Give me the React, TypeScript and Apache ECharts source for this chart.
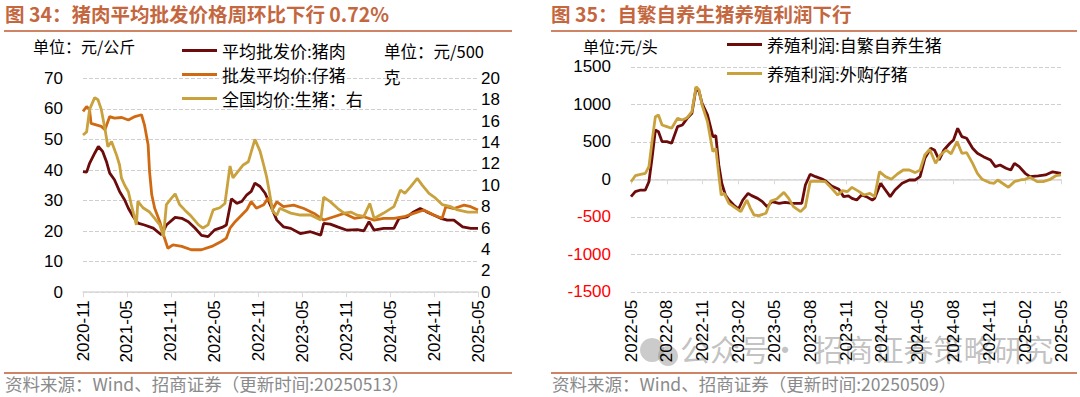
import React, { useEffect, useRef } from "react";
import * as echarts from "echarts";

const FONT = "'Liberation Sans', 'Noto Sans CJK SC', sans-serif";
const CJK = "'Noto Sans CJK SC', 'Liberation Sans', sans-serif";

// Left chart: month offset from 2020-11, value
const porkWholesale: [number, number][] = [
  [0, 39.5], [0.5, 39.3], [0.9, 42.2], [1.6, 45.5], [2.1, 47.7], [2.7, 46], [3.2, 42.8], [3.65, 39],
  [4.3, 36.8], [5, 33], [5.7, 30.2], [6.2, 27.5], [6.85, 24.8], [7.5, 22.6], [8.4, 22], [9.6, 21],
  [10.7, 18.8], [11.4, 22], [12.6, 24.5], [13.5, 24.2], [14.4, 23.1], [15.3, 21], [16.2, 18.6],
  [17.1, 18.2], [18, 20.4], [19, 21.2], [19.6, 22], [20.3, 30.6], [21, 29.1], [21.7, 29.7],
  [22.4, 31.9], [23, 33], [23.5, 35.7], [24.2, 34.6], [24.9, 32.4], [25.8, 27.5], [26.5, 23.6],
  [27.4, 21.4], [28.4, 20.9], [29.7, 19.2], [31.1, 19.8], [32.5, 18.7], [32.9, 22.5], [33.8, 22.3],
  [34.8, 21.4], [36.1, 20.3], [37.5, 20.5], [38.4, 20.1], [39.1, 23.1], [39.8, 20.3], [41.1, 20.9],
  [42.5, 20.9], [43.2, 24.2], [44.3, 24.7], [45.2, 26.3], [46.1, 27.4], [47, 26.3], [48, 25.2],
  [48.9, 24.2], [49.8, 23.6], [50.7, 23.6], [51.9, 21.4], [53, 20.9], [54, 20.9],
];

const pigletWholesale: [number, number][] = [
  [0, 59.2], [0.5, 60.8], [0.9, 59.7], [1.1, 55.3], [1.8, 54.8], [2.5, 54.3], [3, 53.2], [3.65, 57.5],
  [4.3, 57], [5.3, 57.2], [6.2, 56.4], [7.1, 57.5], [8, 58.1], [8.4, 54.8], [8.9, 48.3], [9.1, 39.5],
  [9.4, 31.9], [9.8, 27.5], [10.5, 23.1], [11, 18.8], [11.6, 14.4], [12.3, 15.5], [13.5, 15],
  [14.8, 13.9], [16.2, 13.9], [17.6, 15], [18.9, 16.6], [19.6, 17.7], [20.1, 21], [20.8, 23.1],
  [21.7, 25.3], [22.4, 27], [23, 29.7], [23.7, 27.5], [24.7, 28.6], [25.3, 30.8], [26, 27.5],
  [26.5, 29.6], [27.4, 28], [28.8, 28.5], [30.2, 27.4], [31.6, 25.8], [32.9, 23.6], [34.3, 24.7],
  [35.7, 25.8], [37.1, 24.2], [38.4, 24.7], [39.8, 23.6], [41.1, 24.2], [42.5, 24.2], [43.9, 24.7],
  [45.2, 25.8], [46.6, 26.9], [48, 25.2], [49.1, 24.2], [49.6, 28], [50.7, 27.4], [52.1, 28.5],
  [53, 28], [54, 26.9],
];

const hogNational: [number, number][] = [
  [0, 14.7], [0.5, 15], [0.9, 17.1], [1.6, 18.2], [2.05, 18], [2.5, 17.1], [3, 15.3], [3.4, 13.6],
  [3.9, 14.1], [4.6, 12.8], [5, 11.9], [5.25, 10.7], [5.7, 10], [6.2, 9.4], [6.6, 8.2], [7.3, 6.3],
  [7.5, 8.5], [8.2, 7.9], [9.1, 7.5], [9.8, 6.9], [10.5, 6.3], [11, 5.2], [11.4, 8.2], [12.1, 8.8],
  [12.6, 9.2], [13.2, 8.2], [13.9, 7.7], [14.8, 7.1], [15.8, 6.3], [16.4, 6], [17.1, 6.3],
  [17.8, 7.7], [18.7, 7.9], [19.4, 8.3], [20.1, 11.8], [20.5, 10.7], [21.2, 11.3], [21.9, 11.9],
  [22.6, 12.2], [23.5, 14.3], [24.2, 13.2], [24.7, 11.9], [25.1, 10.8], [25.5, 9.3], [25.9, 7.6],
  [26.5, 7.2], [26.9, 7.85], [28.4, 7.4], [29.7, 7.22], [31.1, 7.22], [32.5, 6.76], [32.9, 8.9],
  [33.8, 8.47], [34.8, 7.85], [35.7, 7.4], [36.6, 7.5], [37.5, 7.2], [38.4, 7.1], [39.2, 8.3],
  [39.8, 6.9], [41.1, 7.4], [42.5, 8], [43.4, 9.56], [44, 9.25], [44.8, 9.87], [45.7, 10.65],
  [46.4, 10], [47.3, 9.25], [48.2, 8.8], [49.1, 8.2], [50.3, 8], [51.2, 7.7], [52.6, 7.5], [54, 7.5],
];

// Right chart: month offset from 2022-05, value (元/头)
const selfBred: [number, number][] = [
  [0, -232], [0.36, -165], [0.8, -143], [1.2, -143], [1.5, -32], [1.76, 280], [2.04, 657], [2.3, 635],
  [2.6, 502], [3, 502], [3.4, 480], [3.9, 702], [4.3, 724], [4.7, 813], [5.1, 880], [5.45, 1222],
  [5.7, 1168], [5.95, 1013], [6.4, 858], [6.65, 702], [6.85, 569], [7.1, 582], [7.35, 191],
  [7.6, -53], [7.9, -209], [8.2, -276], [8.6, -342], [9, -396], [9.36, -276], [9.8, -187],
  [10.1, -218], [10.6, -254], [11, -298], [11.4, -365], [11.8, -298], [12.4, -320], [12.9, -307],
  [13.5, -320], [14.3, -320], [14.6, -76], [15, 67], [15.45, 35], [16, 4], [16.26, -18], [16.8, -89],
  [17.4, -134], [17.8, -231], [18.2, -222], [18.5, -254], [18.9, -276], [19.3, -209], [19.7, -231],
  [20.2, -276], [20.4, -254], [20.9, -53], [21.3, -142], [21.7, -231], [22.1, -142], [22.7, -53],
  [23.3, -9], [23.8, -9], [24.2, 36], [24.6, 280], [25.1, 413], [25.4, 391], [25.8, 258], [26.2, 391],
  [26.7, 480], [27, 524], [27.35, 680], [27.7, 569], [28.1, 547], [28.6, 413], [29, 347], [29.5, 302],
  [30.1, 258], [30.5, 169], [30.9, 191], [31.4, 147], [31.8, 124], [32.1, 213], [32.5, 169], [33, 80],
  [33.4, 36], [34.1, 45], [34.7, 58], [35.3, 100], [36, 80],
];

const purchased: [number, number][] = [
  [0, -32], [0.36, 48], [0.8, 67], [1.2, 80], [1.5, 168], [1.76, 502], [2.04, 835], [2.3, 858],
  [2.6, 724], [3, 702], [3.4, 680], [3.9, 813], [4.3, 791], [4.7, 822], [5.1, 902], [5.45, 1235],
  [5.7, 1190], [5.95, 991], [6.4, 769], [6.65, 547], [6.85, 369], [7.1, 413], [7.35, 58],
  [7.55, -209], [7.8, -187], [8.2, -320], [8.8, -387], [9.2, -431], [9.7, -276], [10, -387],
  [10.3, -476], [10.7, -485], [11.3, -453], [11.7, -290], [12.2, -262], [12.8, -174], [13.2, -254],
  [13.6, -365], [14.2, -431], [14.6, -365], [15, -32], [15.45, -23], [16.26, -31], [16.8, -120],
  [17.3, -209], [17.7, -151], [18.1, -165], [18.5, -107], [19.1, -165], [19.5, -209], [20, -187],
  [20.4, -231], [20.8, 102], [21.3, 36], [21.8, 0], [22.3, 71], [22.8, 124], [23.3, 124], [23.8, 89],
  [24.2, 124], [24.6, 324], [25, 400], [25.5, 213], [25.9, 324], [26.4, 391], [26.8, 338], [27.3, 502],
  [27.7, 347], [28.1, 356], [28.6, 213], [29, 80], [29.4, 0], [30, -44], [30.4, -53], [30.7, -9],
  [31.1, -53], [31.6, -107], [32.1, -31], [32.6, -9], [33, 0], [33.4, 27], [34, -31], [34.5, -31],
  [35.1, 0], [35.6, 50], [36, 60],
];

const leftNames = ["平均批发价:猪肉", "批发平均价:仔猪", "全国均价:生猪：右"];
const rightNames = ["养殖利润:自繁自养生猪", "养殖利润:外购仔猪"];
const leftStart = { year: 2020, month: 11 };
const rightStart = { year: 2022, month: 5 };

const COLORS = { maroon: "#6B0B0B", orange: "#D06A12", gold: "#C9A23E" };
const TITLE_COLOR = "#C4673F";

function monthLabel(start: { year: number; month: number }, offset: number) {
  const idx = start.month - 1 + Math.round(offset);
  const y = start.year + Math.floor(idx / 12);
  const m = (idx % 12) + 1;
  return `${y}-${m < 10 ? "0" + m : m}`;
}

export default function App() {
  const ref = useRef<HTMLDivElement>(null);
  useEffect(() => {
    if (!ref.current) return;
    const chart = echarts.init(ref.current, undefined, { renderer: "svg" });
    const axisGray = "#d9d9d9";
    const xLabel = { rotate: 90, fontSize: 17, color: "#000", margin: 8, fontFamily: FONT };
    const legendText = { fontSize: 17, color: "#000", lineHeight: 17, fontFamily: CJK };
    const option: any = {
      animation: false,
      textStyle: { fontFamily: FONT },
      grid: [
        { left: 83, top: 78.4, width: 395, height: 213.8 },
        { left: 631, top: 66.8, width: 430, height: 225 },
      ],
      legend: [
        {
          data: leftNames, orient: "vertical", left: 177, top: 37, itemWidth: 35, itemHeight: 3,
          itemGap: 7, icon: "rect", selectedMode: false, textStyle: legendText,
        },
        {
          data: rightNames, orient: "vertical", left: 722, top: 31, itemWidth: 35, itemHeight: 3,
          itemGap: 12, icon: "rect", selectedMode: false, textStyle: legendText,
        },
      ],
      xAxis: [
        {
          type: "value", gridIndex: 0, min: 0, max: 54, interval: 6,
          axisLine: { lineStyle: { color: axisGray, width: 1.5 } },
          axisTick: { show: true, length: 5, lineStyle: { color: axisGray } },
          axisLabel: { ...xLabel, formatter: (v: number) => monthLabel(leftStart, v) },
          splitLine: { show: false },
        },
        {
          type: "value", gridIndex: 1, min: 0, max: 36, interval: 3, position: "bottom",
          axisLine: { show: false, onZero: false }, axisTick: { show: false },
          axisLabel: { ...xLabel, formatter: (v: number) => monthLabel(rightStart, v) },
          splitLine: { show: false },
        },
        {
          type: "value", gridIndex: 1, min: 0, max: 36, interval: 3, position: "top",
          axisLine: { show: true, onZero: true, lineStyle: { color: axisGray, width: 1.5 } },
          axisTick: { show: true, inside: true, length: 5, lineStyle: { color: axisGray } },
          axisLabel: { show: false }, splitLine: { show: false },
        },
      ],
      yAxis: [
        {
          type: "value", gridIndex: 0, min: 0, max: 70, interval: 10,
          axisLine: { show: false }, axisTick: { show: false },
          axisLabel: { fontSize: 17, color: "#000", margin: 20, fontFamily: FONT },
          splitLine: { lineStyle: { type: "dashed", color: "#cfcfcf" } },
        },
        {
          type: "value", gridIndex: 0, position: "right", min: 0, max: 20, interval: 2,
          axisLine: { show: false }, axisTick: { show: false },
          axisLabel: { fontSize: 17, color: "#000", margin: 3, align: "left", fontFamily: FONT },
          splitLine: { show: false },
        },
        {
          type: "value", gridIndex: 1, min: -1500, max: 1500, interval: 500,
          axisLine: { show: false }, axisTick: { show: false },
          axisLabel: {
            fontSize: 17, margin: 20, fontFamily: FONT,
            formatter: (v: number) => String(v),
            color: (v: any) => (Number(v) < 0 ? "#FF0000" : "#000"),
          },
          splitLine: { lineStyle: { type: "dashed", color: "#cfcfcf" } },
        },
      ],
      series: [
        {
          type: "line", name: leftNames[0], xAxisIndex: 0, yAxisIndex: 0, data: porkWholesale,
          showSymbol: false, lineStyle: { color: COLORS.maroon, width: 2.8 }, itemStyle: { color: COLORS.maroon },
        },
        {
          type: "line", name: leftNames[1], xAxisIndex: 0, yAxisIndex: 0, data: pigletWholesale,
          showSymbol: false, lineStyle: { color: COLORS.orange, width: 2.8 }, itemStyle: { color: COLORS.orange },
        },
        {
          type: "line", name: leftNames[2], xAxisIndex: 0, yAxisIndex: 1, data: hogNational,
          showSymbol: false, lineStyle: { color: COLORS.gold, width: 2.8 }, itemStyle: { color: COLORS.gold },
        },
        {
          type: "line", name: rightNames[0], xAxisIndex: 1, yAxisIndex: 2, data: selfBred,
          showSymbol: false, lineStyle: { color: COLORS.maroon, width: 2.8 }, itemStyle: { color: COLORS.maroon },
        },
        {
          type: "line", name: rightNames[1], xAxisIndex: 1, yAxisIndex: 2, data: purchased,
          showSymbol: false, lineStyle: { color: COLORS.gold, width: 2.8 }, itemStyle: { color: COLORS.gold },
        },
      ],
      graphic: [
        {
          type: "text", left: 5, top: 4,
          style: { text: "图 34：猪肉平均批发价格周环比下行 0.72%", fill: TITLE_COLOR, font: `bold 19.5px ${CJK}` },
        },
        {
          type: "text", left: 551, top: 4,
          style: { text: "图 35：自繁自养生猪养殖利润下行", fill: TITLE_COLOR, font: `bold 19.5px ${CJK}` },
        },
        { type: "rect", shape: { x: 4, y: 30, width: 508, height: 2 }, style: { fill: "#CF8466" } },
        { type: "rect", shape: { x: 551, y: 30, width: 526, height: 2 }, style: { fill: "#CF8466" } },
        { type: "rect", shape: { x: 4, y: 372, width: 508, height: 2 }, style: { fill: "#CF8466" } },
        { type: "rect", shape: { x: 551, y: 372, width: 526, height: 2 }, style: { fill: "#CF8466" } },
        {
          type: "text", left: 5, top: 375,
          style: { text: "资料来源：Wind、招商证券（更新时间:20250513）", fill: "#8a8a8a", font: `17.5px ${CJK}` },
        },
        {
          type: "text", left: 552, top: 375,
          style: { text: "资料来源：Wind、招商证券（更新时间:20250509）", fill: "#8a8a8a", font: `17.5px ${CJK}` },
        },
        {
          type: "text", left: 33, top: 38,
          style: { text: "单位：元/公斤", fill: "#000", font: `16px ${CJK}` },
        },
        {
          type: "text", left: 384, top: 38,
          style: { text: "单位：元/500\n克", fill: "#000", font: `16.5px ${CJK}`, lineHeight: 26 },
        },
        {
          type: "text", left: 583, top: 38,
          style: { text: "单位:元/头", fill: "#000", font: `16px ${CJK}` },
        },
        {
          type: "circle", shape: { cx: 652, cy: 350, r: 12 }, style: { fill: "rgba(140,140,140,0.45)" },
        },
        {
          type: "circle", shape: { cx: 668, cy: 356, r: 10 }, style: { fill: "rgba(140,140,140,0.45)" },
        },
        {
          type: "text", left: 680, top: 333,
          style: { text: "公众号·  招商证券策略研究", fill: "rgba(120,120,120,0.45)", font: `30px ${CJK}` },
        },
      ],
    };
    chart.setOption(option);
    return () => chart.dispose();
  }, []);
  return <div ref={ref} style={{ position: "absolute", left: 0, top: 0, width: 1080, height: 397 }} />;
}
